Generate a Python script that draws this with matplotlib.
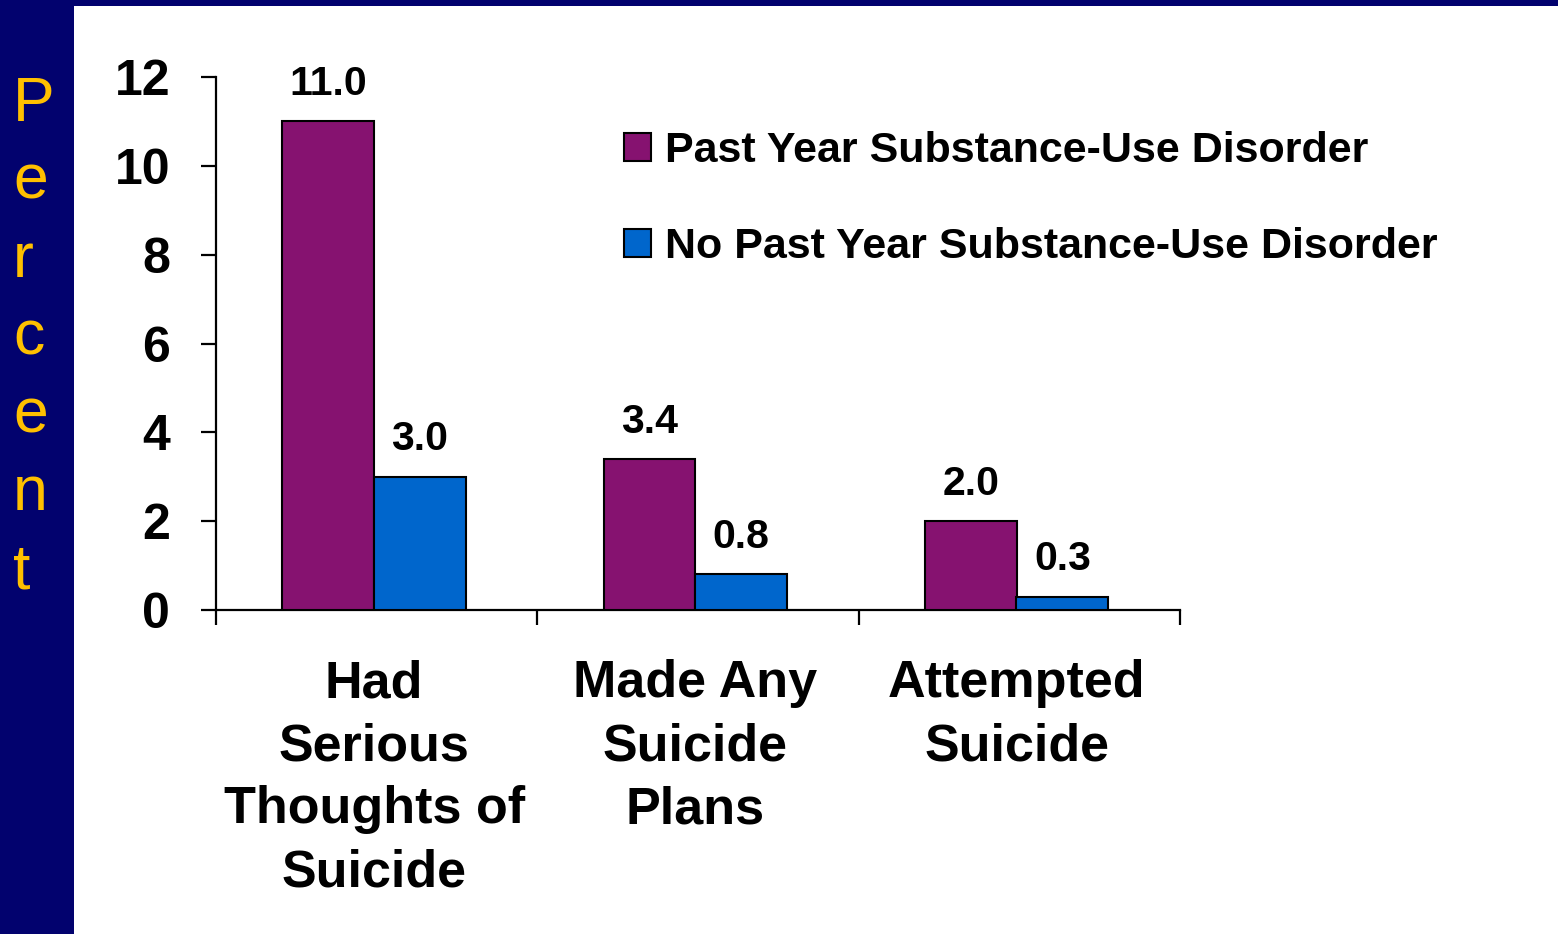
import matplotlib.pyplot as plt
from matplotlib.patches import Rectangle
from matplotlib.transforms import blended_transform_factory

categories = ["Had\nSerious\nThoughts of\nSuicide", "Made Any\nSuicide\nPlans", "Attempted\nSuicide"]
sud = [11.0, 3.4, 2.0]
no_sud = [3.0, 0.8, 0.3]
series_names = ["Past Year Substance-Use Disorder", "No Past Year Substance-Use Disorder"]
yticks = [0, 2, 4, 6, 8, 10, 12]

purple = "#861270"
blue = "#0066CC"
navy = "#02026E"
font = "Liberation Sans"

W, H = 1558, 934
fig = plt.figure(figsize=(W / 100, H / 100), dpi=100, facecolor=navy)
# white slide panel
fig.patches.append(Rectangle((74 / W, 0), 1 - 74 / W, 1 - 6 / H, transform=fig.transFigure,
                             facecolor="white", edgecolor="none", zorder=-1))

ax = fig.add_axes([216 / W, 1 - 610 / H, (1180 - 216) / W, (610 - 77) / H])
ax.set_zorder(2)
ax.patch.set_alpha(0)

x = list(range(len(categories)))
w = 0.286
b1 = ax.bar([i + 0.349 for i in x], sud, width=w, color=purple, edgecolor="black", linewidth=1.5,
            label=series_names[0], zorder=3)
b2 = ax.bar([i + 0.634 for i in x], no_sud, width=w, color=blue, edgecolor="black", linewidth=1.5,
            label=series_names[1], zorder=3)

for bars, vals in [(b1, sud), (b2, no_sud)]:
    for r, v in zip(bars, vals):
        ax.annotate(f"{v:.1f}", (r.get_x() + r.get_width() / 2, v), xytext=(0, 19),
                    textcoords="offset points", ha="center", va="baseline",
                    fontsize=29.5, fontweight="bold", family=font)

ax.set_xlim(0, 3)
ax.set_ylim(0, 12)
ax.set_yticks(yticks)
ax.set_yticklabels([str(t) for t in yticks], fontsize=36, fontweight="bold", family=font)
ax.set_xticks([0, 1, 2, 3])
ax.set_xticklabels([])
ax.tick_params(axis="y", direction="out", length=11, width=1.6, pad=22)
ax.tick_params(axis="x", direction="out", length=11, width=1.6)
for s in ["top", "right"]:
    ax.spines[s].set_visible(False)
for s in ["left", "bottom"]:
    ax.spines[s].set_linewidth(1.6)

trans = blended_transform_factory(ax.transData, ax.transAxes)
for i, lab in enumerate(categories):
    ax.text(i + 0.492, -0.092, lab, transform=trans, ha="center", va="top",
            fontsize=37.5, fontweight="bold", family=font, linespacing=1.37)

fig.legend(handles=[b1, b2], loc="upper left", bbox_to_anchor=(624 / W, 1 - 131 / H),
           frameon=False, prop={"family": font, "weight": "bold", "size": 31},
           handlelength=0.63, handleheight=0.63, handletextpad=0.33,
           labelspacing=1.3, borderpad=0, borderaxespad=0)

fig.text(13 / W, 1 - 75 / H, "P\ne\nr\nc\ne\nn\nt", color="#FFC000", fontsize=45,
         family=font, ha="left", va="top", linespacing=1.41)

fig.savefig("out.png", dpi=100, facecolor=navy)
